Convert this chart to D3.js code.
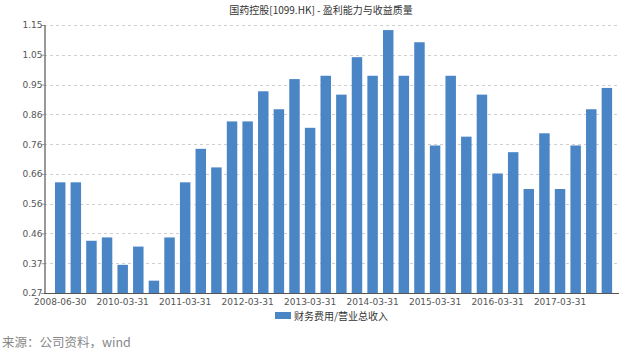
<!DOCTYPE html>
<html><head><meta charset="utf-8">
<script src="https://cdn.jsdelivr.net/npm/d3@7"></script>
<style>body{margin:0;background:#fff;}svg{display:block;}</style>
</head><body>
<svg id="c" width="619" height="352"></svg>
<script>
const categories = ["2008-06-30","2008-12-31","2009-06-30","2009-12-31",
"2010-03-31","2010-06-30","2010-09-30","2010-12-31",
"2011-03-31","2011-06-30","2011-09-30","2011-12-31",
"2012-03-31","2012-06-30","2012-09-30","2012-12-31",
"2013-03-31","2013-06-30","2013-09-30","2013-12-31",
"2014-03-31","2014-06-30","2014-09-30","2014-12-31",
"2015-03-31","2015-06-30","2015-09-30","2015-12-31",
"2016-03-31","2016-06-30","2016-09-30","2016-12-31",
"2017-03-31","2017-06-30","2017-09-30","2017-12-31"];
const values = [0.632,0.632,0.440,0.451,0.361,0.421,0.309,0.451,
0.632,0.742,0.681,0.832,0.832,0.931,0.872,0.971,
0.811,0.982,0.920,1.043,0.982,1.132,0.982,1.092,
0.753,0.982,0.782,0.920,0.661,0.731,0.610,0.793,
0.610,0.753,0.872,0.942];
const xTickLabels = ["2008-06-30","2010-03-31","2011-03-31","2012-03-31","2013-03-31","2014-03-31","2015-03-31","2016-03-31","2017-03-31"];
const yTickLabels = ["0.27","0.37","0.46","0.56","0.66","0.76","0.86","0.95","1.05","1.15"];
const yMin = 0.2685, yStep = 0.0978;
const seriesName = "财务费用/营业总收入";
const title = "国药控股[1099.HK] - 盈利能力与收益质量";
const source = "来源：公司资料，wind";

(function(){
const svg = d3.select("#c");
const pL = 44, pR = 619, pT = 25, pB = 293;
const yTicks = yTickLabels.map((d,i)=>yMin + i*yStep);
const y = d3.scaleLinear().domain([yTicks[0], yTicks[yTicks.length-1]]).range([pB, pT]);
const x = d3.scaleBand().domain(categories).range([52.4, 614.7]).paddingInner(0.33).paddingOuter(0.165);
const font = "'DejaVu Sans', sans-serif";

svg.append("g").selectAll("line").data(yTicks.slice(1)).join("line")
  .attr("x1", pL).attr("x2", pR).attr("y1", d=>Math.round(y(d))+0.5).attr("y2", d=>Math.round(y(d))+0.5)
  .attr("stroke", "#cfcfcf").attr("stroke-dasharray", "3,3");

svg.append("g").selectAll("rect").data(values).join("rect")
  .attr("x", (d,i)=>x(categories[i])).attr("width", x.bandwidth())
  .attr("y", d=>y(d)).attr("height", d=>pB - y(d))
  .attr("fill", "#4a85c6");

const yAxis = d3.axisLeft(y).tickValues(yTicks).tickSize(3)
  .tickFormat((d,i)=>yTickLabels[i]);
const gy = svg.append("g").attr("transform", `translate(${pL+0.5},0)`).call(yAxis);
gy.select(".domain").attr("stroke", "#333");
gy.selectAll(".tick line").attr("stroke", "#999");
gy.selectAll("text").attr("fill", "#555").attr("font-family", font).attr("font-size", 9).attr("x", -2);

const xAxis = d3.axisBottom(x).tickValues(xTickLabels).tickSize(0).tickPadding(5);
const gx = svg.append("g").attr("transform", `translate(0,${pB+0.5})`).call(xAxis);
gx.select(".domain").remove();
gx.selectAll("text").attr("fill", "#555").attr("font-family", font).attr("font-size", 9);
svg.append("line").attr("x1", pL).attr("x2", pR).attr("y1", pB+0.5).attr("y2", pB+0.5).attr("stroke", "#555");

svg.append("text").attr("x", 321).attr("y", 14).attr("text-anchor", "middle")
  .attr("font-family", "'Noto Sans CJK SC', sans-serif").attr("font-size", 10).attr("fill", "#333").text(title);

svg.append("rect").attr("x", 275).attr("y", 312).attr("width", 16).attr("height", 7).attr("fill", "#4a85c6");
svg.append("text").attr("x", 294).attr("y", 319.5).attr("font-family", "'Noto Sans CJK SC', sans-serif")
  .attr("font-size", 10).attr("fill", "#333").text(seriesName);

svg.append("text").attr("x", 2).attr("y", 347).attr("font-family", "'Noto Sans CJK SC', sans-serif")
  .attr("font-size", 12.5).attr("fill", "#888").text(source);
})();
</script>
</body></html>
